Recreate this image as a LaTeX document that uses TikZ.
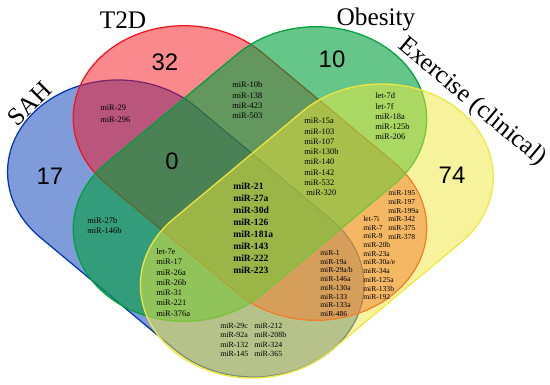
\documentclass[tikz,border=0pt]{standalone}
\usepackage{fontspec}
\setmainfont{Liberation Serif}
\setsansfont{Liberation Sans}
\definecolor{sahblue}{RGB}{0,55,180}
\definecolor{t2dred}{RGB}{245,20,30}
\definecolor{obegreen}{RGB}{0,160,60}
\definecolor{exyellow}{RGB}{240,232,60}

\begin{document}
\begin{tikzpicture}[x=0.025cm, y=-0.025cm,
  setshape/.style={line width=0.9pt, fill opacity=0.5},
  setlbl/.style={font=\fontsize{18}{20}\selectfont, inner sep=0pt},
  count/.style={font=\sffamily\fontsize{17}{19}\selectfont, inner sep=0pt},
  mir/.style={font=\fontsize{6}{7.3}\selectfont, align=left, anchor=west, inner sep=0pt},
  mirtight/.style={mir, font=\fontsize{5.4}{6.2}\selectfont},
  core/.style={mir, font=\bfseries\fontsize{6.8}{8.5}\selectfont},
]
\useasboundingbox (0,0) rectangle (550,384);

% the four sets, drawn in a frame stretched 1.2 times sideways
\begin{scope}[xscale=1.2]
\filldraw[setshape, draw=sahblue, fill=sahblue] (98.3,172) ++(-45:92)
  arc[start angle=-45, end angle=-225, radius=92] -- ++(113,113)
  arc[start angle=135, end angle=-45, radius=92] -- cycle;
\filldraw[setshape, draw=t2dred, fill=t2dred] (153.3,118) ++(-45:92.3)
  arc[start angle=-45, end angle=-225, radius=92.3] -- ++(110,110)
  arc[start angle=135, end angle=-45, radius=92.3] -- cycle;
\filldraw[setshape, fill opacity=0.6, draw=obegreen, fill=obegreen] (263.3,119) ++(45:92.3)
  arc[start angle=45, end angle=-135, radius=92.3] -- ++(-110,110)
  arc[start angle=225, end angle=45, radius=92.3] -- cycle;
\filldraw[setshape, draw=exyellow, fill=exyellow] (318,177) ++(45:93)
  arc[start angle=45, end angle=-135, radius=93] -- ++(-108,108)
  arc[start angle=225, end angle=45, radius=93] -- cycle;
\end{scope}

% set names
\node[setlbl, rotate=45] (sah) at (30,104) {SAH};
\node[setlbl] (t2d) at (123,20) {T2D};
\node[setlbl] (obesity) at (376,19) {Obesity};
\node[setlbl, rotate=-40] (exercise) at (472,102) {Exercise (clinical)};

% counts
\node[count] (n17) at (50,176) {17};
\node[count] (n32) at (165,62) {32};
\node[count] (n10) at (332,59) {10};
\node[count] (n74) at (452,175) {74};
\node[count] (n0) at (172,161) {0};

% shared miRNAs
\node[mir] (sahtd) at (100,113.5) {miR-29\\[1pt]miR-296};
\node[mir] (tdob) at (232,100.5) {miR-10b\\miR-138\\miR-423\\miR-503};
\node[mir] (tdobex) at (304,157) {miR-15a\\miR-103\\miR-107\\miR-130b\\miR-140\\miR-142\\miR-532\\\hspace*{1.5pt}miR-320};
\node[mir] (obex) at (375,116.5) {let-7d\\let-7f\\miR-18a\\miR-125b\\miR-206};
\node[mir] (sahob) at (87,225.5) {miR-27b\\miR-146b};
\node[mir] (sahobex) at (156,282.5) {let-7e\\miR-17\\miR-26a\\miR-26b\\miR-31\\miR-221\\miR-376a};
\node[core] (all) at (233,228.5) {miR-21\\miR-27a\\miR-30d\\miR-126\\miR-181a\\miR-143\\miR-222\\miR-223};
\node[mirtight] (sahtdex) at (320,283.5) {miR-1\\miR-19a\\miR-29a/b\\miR-146a\\miR-130a\\miR-133\\miR-133a\\miR-486};
\node[mirtight] (tdexa) at (363,258) {let-7i\\miR-7\\miR-9\\miR-20b\\miR-23a\\miR-30a/e\\miR-34a\\miR-125a\\miR-133b\\miR-192};
\node[mirtight] (tdexb) at (388,215) {miR-195\\miR-197\\miR-199a\\miR-342\\miR-375\\miR-378};
\node[mir, font=\fontsize{5.6}{6.8}\selectfont] (sahexa) at (220,340) {miR-29c\\miR-92a\\miR-132\\miR-145};
\node[mir, font=\fontsize{5.6}{6.8}\selectfont] (sahexb) at (254,340) {miR-212\\miR-208b\\miR-324\\miR-365};
\end{tikzpicture}
\end{document}
